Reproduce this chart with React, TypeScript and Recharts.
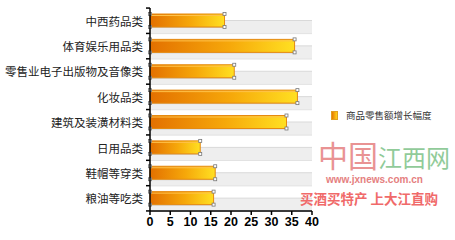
import React from 'react';
import { BarChart, Bar, XAxis, YAxis } from 'recharts';

const categories = [
  '中西药品类',
  '体育娱乐用品类',
  '零售业电子出版物及音像类',
  '化妆品类',
  '建筑及装潢材料类',
  '日用品类',
  '鞋帽等穿类',
  '粮油等吃类',
];
const growth = [18.4, 35.7, 20.8, 36.4, 33.7, 12.4, 16.1, 15.7];
const xTicks = [0, 5, 10, 15, 20, 25, 30, 35, 40];
const seriesName = '商品零售额增长幅度';

const data = categories.map((name, i) => ({ name, value: growth[i] }));

const BAND = 25.25;

const StripeBackground = (props: any) => {
  const { x, y, width, height } = props;
  const top = y + height / 2;
  return (
    <g>
      <rect x={x} y={top} width={width} height={BAND / 2 + 0.5} fill="#eeeeee" />
      <line x1={x} x2={x + width} y1={top} y2={top} stroke="#d9d9d9" strokeWidth={1} />
      <line x1={x} x2={x + width} y1={top + BAND / 2 + 0.5} y2={top + BAND / 2 + 0.5} stroke="#e2e2e2" strokeWidth={1} />
    </g>
  );
};

const Handle = ({ cx, cy }: { cx: number; cy: number }) => (
  <rect x={cx - 1.5} y={cy - 1.5} width={3} height={3} fill="#ffffff" stroke="#777" strokeWidth={0.8} />
);

const BarShape = (props: any) => {
  const { x, y, width, height } = props;
  return (
    <g>
      <rect x={x} y={y + 1} width={width} height={height} fill="#b0b0b0" opacity={0.5} />
      <rect x={x} y={y} width={width} height={height} fill="url(#barGrad)" stroke="#e58a10" strokeWidth={1} />
      <line x1={x + 1} x2={x + width - 1} y1={y + 1.5} y2={y + 1.5} stroke="#ffc24a" strokeWidth={1} />
      <Handle cx={x} cy={y} />
      <Handle cx={x + width} cy={y} />
      <Handle cx={x} cy={y + height} />
      <Handle cx={x + width} cy={y + height} />
    </g>
  );
};

const CategoryTick = (props: any) => {
  const { x, y, payload, index } = props;
  const axisX = x + 7;
  return (
    <g>
      <line x1={axisX - 4} x2={axisX} y1={y - BAND / 2} y2={y - BAND / 2} stroke="#000" strokeWidth={1.5} />
      {index === categories.length - 1 && (
        <line x1={axisX - 4} x2={axisX} y1={y + BAND / 2} y2={y + BAND / 2} stroke="#000" strokeWidth={1.5} />
      )}
      <text
        x={x}
        y={y}
        textAnchor="end"
        dominantBaseline="central"
        fontFamily="'Noto Sans CJK SC', sans-serif"
        fontSize={11.5}
        fill="#222"
      >
        {payload.value}
      </text>
    </g>
  );
};

export default function App() {
  return (
    <div style={{ position: 'absolute', left: 0, top: 0, width: 455, height: 240, background: '#fff' }}>
      <div style={{ position: 'absolute', left: 0, top: 0 }}>
        <BarChart
          width={455}
          height={240}
          data={data}
          layout="vertical"
          margin={{ top: 8, right: 143, left: 0, bottom: 0 }}
          barSize={13}
        >
          <defs>
            <linearGradient id="barGrad" x1="0" y1="0" x2="1" y2="0">
              <stop offset="0%" stopColor="#e37000" />
              <stop offset="55%" stopColor="#f6a80a" />
              <stop offset="100%" stopColor="#ffe022" />
            </linearGradient>
          </defs>
          <XAxis
            type="number"
            domain={[0, 40]}
            ticks={xTicks}
            axisLine={{ stroke: '#000', strokeWidth: 1.5 }}
            tickLine={{ stroke: '#000', strokeWidth: 1.5 }}
            tickSize={4}
            height={29}
            tick={{ fill: '#000', fontSize: 12.5, fontWeight: 'bold', fontFamily: "'Liberation Sans', Arial, sans-serif" }}
            interval={0}
          />
          <YAxis
            type="category"
            dataKey="name"
            width={150}
            axisLine={{ stroke: '#000', strokeWidth: 1.5 }}
            tickLine={false}
            tickSize={0}
            tickMargin={7}
            tick={<CategoryTick />}
            interval={0}
          />
          <Bar
            dataKey="value"
            name={seriesName}
            shape={<BarShape />}
            background={<StripeBackground />}
            isAnimationActive={false}
          />
        </BarChart>
      </div>
      <div
        style={{
          position: 'absolute',
          left: 331,
          top: 108,
          display: 'flex',
          alignItems: 'center',
          fontFamily: "'Noto Sans CJK SC', sans-serif",
          fontSize: 9.5,
          lineHeight: '14px',
          color: '#333',
          whiteSpace: 'nowrap',
        }}
      >
        <span
          style={{
            display: 'inline-block',
            width: 5,
            height: 7,
            background: 'linear-gradient(to right, #e67800, #ffd21a)',
            border: '1px solid #e0a020',
            marginRight: 8,
          }}
        />
        {seriesName}
      </div>
      <div style={{ position: 'absolute', left: 318, top: 136, fontFamily: "'Noto Sans CJK SC', sans-serif", fontSize: 30, lineHeight: '36px', whiteSpace: 'nowrap', opacity: 0.75 }}>
        <span style={{ color: '#e27070' }}>中国</span>
        <span style={{ color: '#6cba78', fontSize: 24 }}>江西网</span>
      </div>
      <div style={{ position: 'absolute', left: 326, top: 174, fontFamily: "'Liberation Sans', Arial, sans-serif", fontSize: 10, fontWeight: 'bold', color: '#e58080', whiteSpace: 'nowrap' }}>
        www.jxnews.com.cn
      </div>
      <div style={{ position: 'absolute', left: 300, top: 188, fontFamily: "'Noto Sans CJK SC', sans-serif", fontSize: 13.5, fontWeight: 'bold', color: '#f06a6a', whiteSpace: 'nowrap' }}>
        买酒买特产 上大江直购
      </div>
    </div>
  );
}
